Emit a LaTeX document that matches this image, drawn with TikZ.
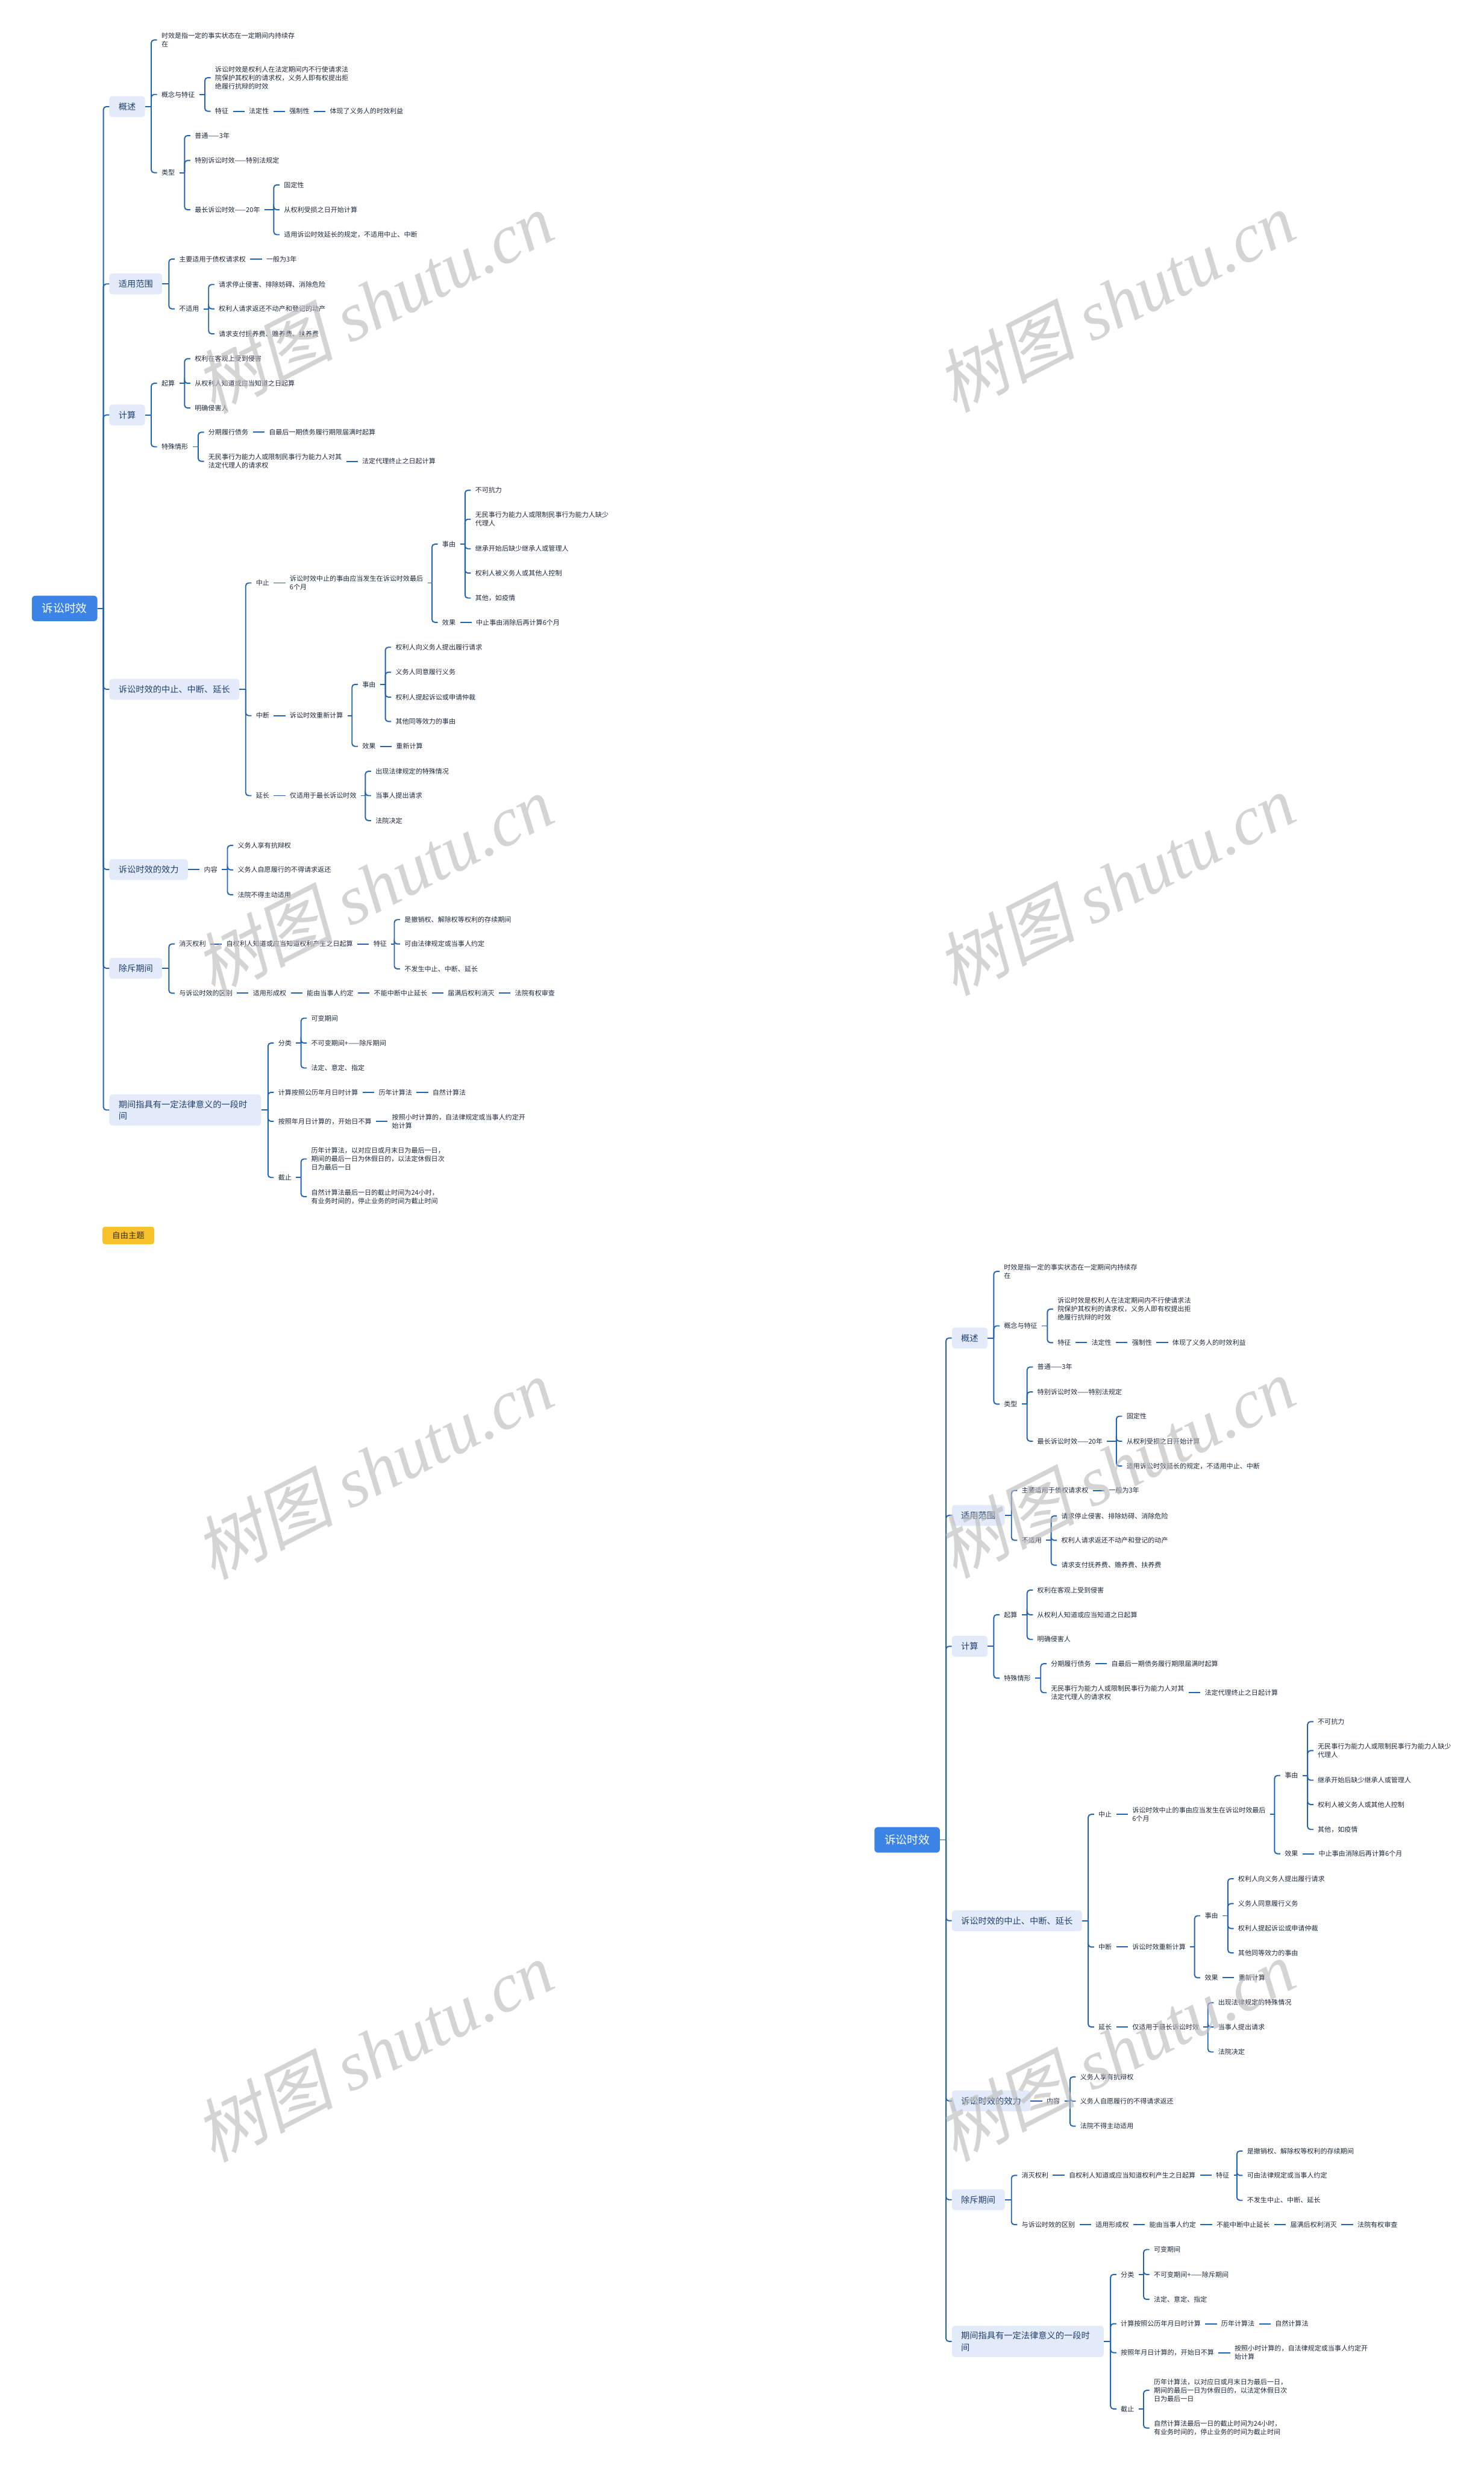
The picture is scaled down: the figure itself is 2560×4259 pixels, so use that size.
\documentclass[tikz,border=0pt]{standalone}
\usepackage{fontspec}
\setmainfont{Noto Sans CJK SC}
\newfontfamily\wmcjk[FakeSlant=0.2]{Noto Sans CJK SC}
\newfontfamily\wmlatin{Liberation Serif}
\usetikzlibrary{positioning, calc}

\definecolor{linkblue}{HTML}{2463B2}
\definecolor{rootblue}{HTML}{3C83E6}
\definecolor{topicfill}{HTML}{E3EBFA}
\definecolor{topictext}{HTML}{21406E}
\definecolor{leaftext}{HTML}{1F2A3C}
\definecolor{tagyellow}{HTML}{F8C22C}
\definecolor{tagtext}{HTML}{3A2E10}
\definecolor{wmgray}{HTML}{BDBDBD}

% parent to children: short stub, then a rounded branch to each child
\newcommand\fork[2]{%
  \foreach \c in {#2} {%
    \draw[link] (#1.east) -- ($(#1.east -| \c.west)+(-10,0)$);
    \draw[link, rounded corners=5pt] ($(#1.east -| \c.west)+(-10,0)$) |- (\c.west);
  }%
}

\begin{document}
\begin{tikzpicture}[x=1pt, y=-1pt,
    root/.style={font=\fontsize{19.5}{24}\selectfont, text=white, fill=rootblue, rounded corners=6pt, minimum width=113pt, minimum height=44pt, inner sep=0pt},
    topic/.style={font=\fontsize{14.8}{20}\selectfont, text=topictext, fill=topicfill, rounded corners=5pt, inner xsep=16pt, inner ysep=10pt, minimum height=36pt, align=left, anchor=west},
    leaf/.style={font=\fontsize{11.5}{14.5}\selectfont, text=leaftext, inner xsep=7.5pt, inner ysep=1pt, align=left, anchor=west},
    link/.style={draw=linkblue, line width=2pt},
    tag/.style={font=\fontsize{14}{16}\selectfont, text=tagtext, fill=tagyellow, rounded corners=4pt, minimum width=89pt, minimum height=30pt, inner sep=0pt},
    watermark/.style={font=\fontsize{120}{120}\selectfont, text=wmgray, opacity=0.65, rotate=27, inner sep=0pt}
]
    \useasboundingbox (0,0) rectangle (2560,4259);
    \fill[white] (0,0) rectangle (2560,4259);

    % the same map twice: top left and bottom right
    \foreach \dx/\dy/\p in {0/0/a, 1454/2125/b} {
    \begin{scope}[shift={(\dx,\dy)}, name prefix=\p-]

    % root and main topics
    \node[root] (root) at (111.5,1050) {诉讼时效};
    \foreach \n/\y/\t in {k1/184/概述, k2/490/适用范围, k3/716/计算, k4/1189.5/诉讼时效的中止、中断、延长, k5/1500.5/诉讼时效的效力, k6/1671/除斥期间}
        \node[topic] (\n) at (188.5,\y) {\t};
    \node[topic, text width=230pt] (k7) at (188.5,1915.5) {期间指具有一定法律意义的一段时\\间};
    \fork{root}{k1,k2,k3,k4,k5,k6,k7}

    % 概述
    \node[leaf] (a1) at (271,69) {时效是指一定的事实状态在一定期间内持续存\\在};
    \node[leaf] (a2) at (271,163) {概念与特征};
    \node[leaf] (a3) at (271,298) {类型};
    \fork{k1}{a1,a2,a3}
    \node[leaf] (a21) at (363.5,134) {诉讼时效是权利人在法定期间内不行使请求法\\院保护其权利的请求权，义务人即有权提出拒\\绝履行抗辩的时效};
    \node[leaf] (a22) at (363.5,192) {特征};
    \fork{a2}{a21,a22}
    \node[leaf, right=20pt of a22] (a23) {法定性};
    \node[leaf, right=20pt of a23] (a24) {强制性};
    \node[leaf, right=20pt of a24] (a25) {体现了义务人的时效利益};
    \foreach \u/\v in {a22/a23, a23/a24, a24/a25}
        \draw[link] (\u.east) -- (\v.west);
    \foreach \n/\y/\t in {a31/234/普通——3年, a32/277/特别诉讼时效——特别法规定, a33/362/最长诉讼时效——20年}
        \node[leaf] (\n) at (328.5,\y) {\t};
    \fork{a3}{a31,a32,a33}
    \foreach \n/\y/\t in {a331/319/固定性, a332/362/从权利受损之日开始计算, a333/405/适用诉讼时效延长的规定，不适用中止、中断}
        \node[leaf] (\n) at (482.5,\y) {\t};
    \fork{a33}{a331,a332,a333}

    % 适用范围
    \node[leaf] (b1) at (301.5,447) {主要适用于债权请求权};
    \node[leaf, right=20pt of b1] (b11) {一般为3年};
    \draw[link] (b1.east) -- (b11.west);
    \node[leaf] (b2) at (301.5,533) {不适用};
    \fork{k2}{b1,b2}
    \foreach \n/\y/\t in {b21/491/请求停止侵害、排除妨碍、消除危险, b22/533/权利人请求返还不动产和登记的动产, b23/576/请求支付抚养费、赡养费、扶养费}
        \node[leaf] (\n) at (370,\y) {\t};
    \fork{b2}{b21,b22,b23}

    % 计算
    \node[leaf] (c1) at (271,661.5) {起算};
    \node[leaf] (c2) at (271,771) {特殊情形};
    \fork{k3}{c1,c2}
    \foreach \n/\y/\t in {c11/619/权利在客观上受到侵害, c12/661.5/从权利人知道或应当知道之日起算, c13/704/明确侵害人}
        \node[leaf] (\n) at (328.5,\y) {\t};
    \fork{c1}{c11,c12,c13}
    \node[leaf] (c21) at (352,746) {分期履行债务};
    \node[leaf, right=20pt of c21] (c211) {自最后一期债务履行期限届满时起算};
    \node[leaf] (c22) at (352,796) {无民事行为能力人或限制民事行为能力人对其\\法定代理人的请求权};
    \node[leaf, right=20pt of c22] (c221) {法定代理终止之日起计算};
    \fork{c2}{c21,c22}
    \foreach \u/\v in {c21/c211, c22/c221}
        \draw[link] (\u.east) -- (\v.west);

    % 中止、中断、延长
    \node[leaf] (d1) at (434,1006) {中止};
    \node[leaf] (d2) at (434,1235) {中断};
    \node[leaf] (d3) at (434,1373) {延长};
    \fork{k4}{d1,d2,d3}
    \node[leaf, right=20pt of d1] (d11) {诉讼时效中止的事由应当发生在诉讼时效最后\\6个月};
    \node[leaf] (d111) at (755.5,939) {事由};
    \node[leaf] (d112) at (755.5,1074) {效果};
    \fork{d11}{d111,d112}
    \foreach \n/\y/\t in {d1111/846/不可抗力, d1112/896/{无民事行为能力人或限制民事行为能力人缺少\\代理人}, d1113/947/继承开始后缺少继承人或管理人, d1114/989/权利人被义务人或其他人控制, d1115/1032/其他，如疫情}
        \node[leaf] (\n) at (812.5,\y) {\t};
    \fork{d111}{d1111,d1112,d1113,d1114,d1115}
    \node[leaf, right=20pt of d112] (d1121) {中止事由消除后再计算6个月};
    \node[leaf, right=20pt of d2] (d21) {诉讼时效重新计算};
    \node[leaf] (d211) at (617.5,1181) {事由};
    \node[leaf] (d212) at (617.5,1288) {效果};
    \fork{d21}{d211,d212}
    \foreach \n/\y/\t in {d2111/1117/权利人向义务人提出履行请求, d2112/1160/义务人同意履行义务, d2113/1203/权利人提起诉讼或申请仲裁, d2114/1245/其他同等效力的事由}
        \node[leaf] (\n) at (675,\y) {\t};
    \fork{d211}{d2111,d2112,d2113,d2114}
    \node[leaf, right=20pt of d212] (d2121) {重新计算};
    \node[leaf, right=20pt of d3] (d31) {仅适用于最长诉讼时效};
    \foreach \n/\y/\t in {d311/1331/出现法律规定的特殊情况, d312/1373/当事人提出请求, d313/1416/法院决定}
        \node[leaf] (\n) at (640.5,\y) {\t};
    \fork{d31}{d311,d312,d313}
    \foreach \u/\v in {d1/d11, d112/d1121, d2/d21, d212/d2121, d3/d31}
        \draw[link] (\u.east) -- (\v.west);

    % 效力
    \node[leaf, right=20pt of k5] (e1) {内容};
    \draw[link] (k5.east) -- (e1.west);
    \foreach \n/\y/\t in {e11/1459/义务人享有抗辩权, e12/1501/义务人自愿履行的不得请求返还, e13/1544/法院不得主动适用}
        \node[leaf] (\n) at (402.5,\y) {\t};
    \fork{e1}{e11,e12,e13}

    % 除斥期间
    \node[leaf] (f1) at (301.5,1629) {消灭权利};
    \node[leaf] (f2) at (301.5,1714) {与诉讼时效的区别};
    \fork{k6}{f1,f2}
    \node[leaf, right=20pt of f1] (f11) {自权利人知道或应当知道权利产生之日起算};
    \node[leaf, right=20pt of f11] (f12) {特征};
    \foreach \n/\y/\t in {f121/1587/是撤销权、解除权等权利的存续期间, f122/1629/可由法律规定或当事人约定, f123/1672/不发生中止、中断、延长}
        \node[leaf] (\n) at (690.5,\y) {\t};
    \fork{f12}{f121,f122,f123}
    \node[leaf, right=20pt of f2] (f21) {适用形成权};
    \node[leaf, right=20pt of f21] (f22) {能由当事人约定};
    \node[leaf, right=20pt of f22] (f23) {不能中断中止延长};
    \node[leaf, right=20pt of f23] (f24) {届满后权利消灭};
    \node[leaf, right=20pt of f24] (f25) {法院有权审查};
    \foreach \u/\v in {f1/f11, f11/f12, f2/f21, f21/f22, f22/f23, f23/f24, f24/f25}
        \draw[link] (\u.east) -- (\v.west);

    % 期间
    \node[leaf] (g1) at (472.5,1800) {分类};
    \node[leaf] (g2) at (472.5,1885) {计算按照公历年月日时计算};
    \node[leaf] (g3) at (472.5,1935) {按照年月日计算的，开始日不算};
    \node[leaf] (g4) at (472.5,2032) {截止};
    \fork{k7}{g1,g2,g3,g4}
    \foreach \n/\y/\t in {g11/1757/可变期间, g12/1800/不可变期间+——除斥期间, g13/1843/法定、意定、指定}
        \node[leaf] (\n) at (529.5,\y) {\t};
    \fork{g1}{g11,g12,g13}
    \node[leaf, right=20pt of g2] (g21) {历年计算法};
    \node[leaf, right=20pt of g21] (g22) {自然计算法};
    \node[leaf, right=20pt of g3] (g31) {按照小时计算的，自法律规定或当事人约定开\\始计算};
    \foreach \u/\v in {g2/g21, g21/g22, g3/g31}
        \draw[link] (\u.east) -- (\v.west);
    \node[leaf] (g41) at (529.5,2000) {历年计算法，以对应日或月末日为最后一日，\\期间的最后一日为休假日的，以法定休假日次\\日为最后一日};
    \node[leaf] (g42) at (529.5,2065) {自然计算法最后一日的截止时间为24小时，\\有业务时间的，停止业务的时间为截止时间};
    \fork{g4}{g41,g42}

    \end{scope}
    }

    % free topic tag
    \node[tag] (freetag) at (221.5,2132) {自由主题};

    % watermarks
    \foreach \wx/\wy [count=\i] in {645/522, 1925/520, 645/1528, 1925/1526, 645/2534, 1925/2532, 645/3540, 1925/3538}
        \node[watermark] (wm\i) at (\wx,\wy) {{\wmcjk 树图} {\wmlatin\itshape shutu.cn}};
\end{tikzpicture}
\end{document}
